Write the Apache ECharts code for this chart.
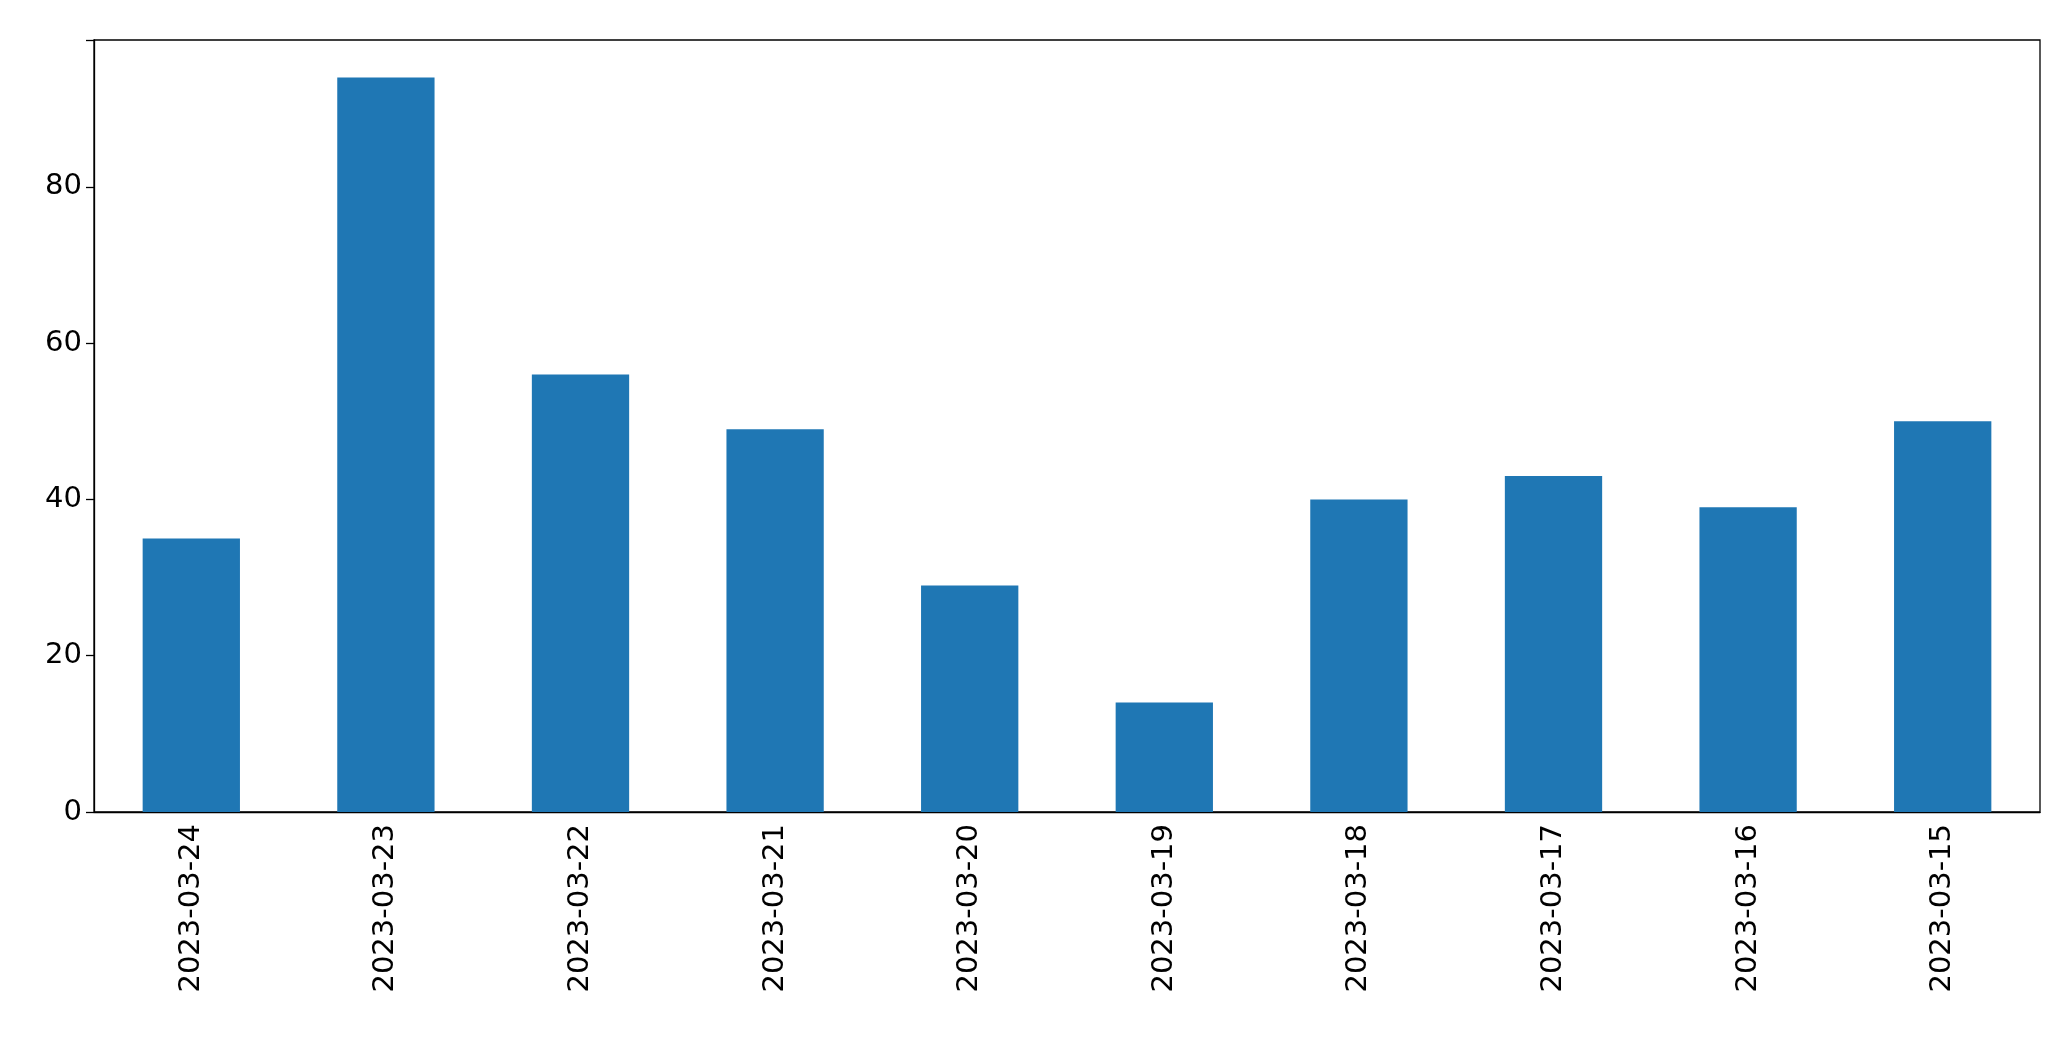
<!DOCTYPE html>
<html>
<head>
<meta charset="utf-8">
<script src="https://cdn.jsdelivr.net/npm/echarts@6/dist/echarts.min.js"></script>
<style>html,body{margin:0;padding:0;background:#fff}#chart{width:2071px;height:1061px}</style>
</head>
<body>
<div id="chart"></div>
<script>
const dates = ['2023-03-24', '2023-03-23', '2023-03-22', '2023-03-21', '2023-03-20',
  '2023-03-19', '2023-03-18', '2023-03-17', '2023-03-16', '2023-03-15']
const counts = [35, 94, 56, 49, 29, 14, 40, 43, 39, 50]
const yTicks = [0, 20, 40, 60, 80]

const myChart = echarts.init(document.getElementById('chart'))
const font = { fontFamily: 'DejaVu Sans', fontSize: 29, color: '#000' }
myChart.setOption({
  animation: false,
  grid: { left: 94, right: 31, top: 40, bottom: 249, show: true, borderColor: '#000', borderWidth: 1.3 },
  xAxis: {
    type: 'category',
    data: dates,
    axisLine: { lineStyle: { color: '#000', width: 1.3 } },
    axisTick: { alignWithLabel: true, length: 8, lineStyle: { color: '#000', width: 1.3 } },
    axisLabel: Object.assign({ rotate: 90, margin: 12 }, font)
  },
  yAxis: {
    type: 'value',
    min: 0,
    max: 98.8,
    interval: 20,
    axisLine: { show: true, lineStyle: { color: '#000', width: 1.3 } },
    axisTick: { show: true, length: 8, lineStyle: { color: '#000', width: 1.3 } },
    splitLine: { show: false },
    axisLabel: Object.assign({
      margin: 12,
      formatter: v => yTicks.includes(v) ? String(v) : ''
    }, font)
  },
  series: [{
    type: 'bar',
    data: counts,
    barWidth: '50%',
    itemStyle: { color: '#1f77b4' }
  }]
})
</script>
</body>
</html>
